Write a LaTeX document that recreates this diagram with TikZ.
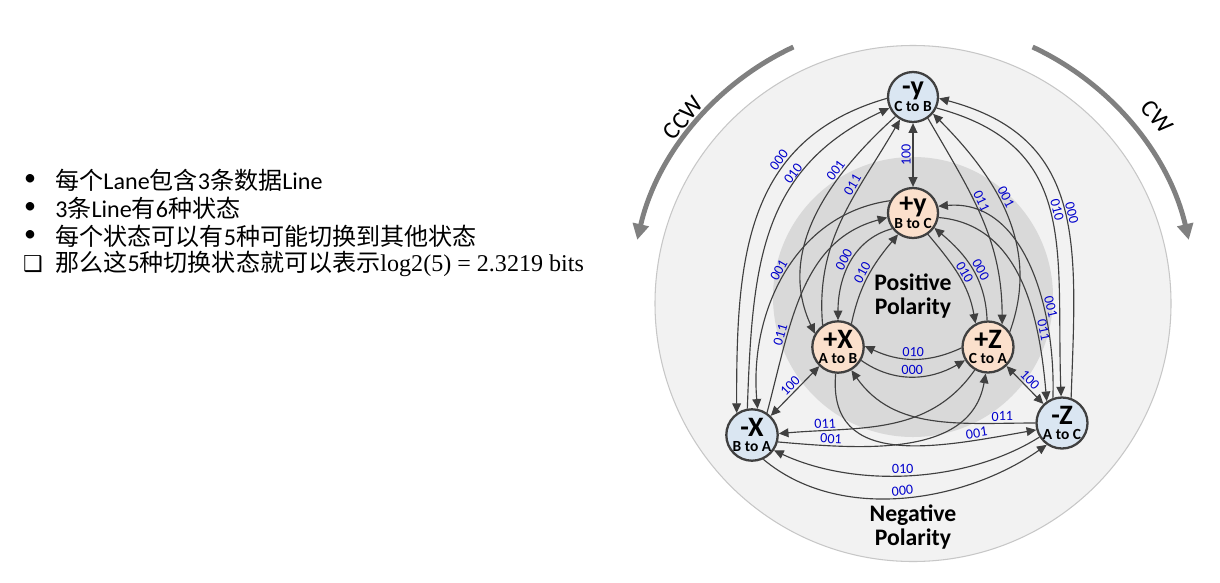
\documentclass[tikz,border=0pt]{standalone}
\usepackage{fontspec}
\setmainfont{Carlito}
\newfontfamily\cjk{Noto Sans CJK SC}
\newfontfamily\timesf{Liberation Serif}
\newfontfamily\symf{DejaVu Sans}
\usetikzlibrary{arrows.meta}

\definecolor{linegray}{RGB}{64,64,64}
\definecolor{negfill}{RGB}{218,230,242}
\definecolor{posfill}{RGB}{251,224,204}
\definecolor{codeblue}{RGB}{0,0,204}
\definecolor{outerfill}{RGB}{242,242,242}
\definecolor{innerfill}{RGB}{217,217,217}
\definecolor{rotgray}{RGB}{128,128,128}

\newcommand{\stl}[2]{{\fontsize{16}{16}\selectfont #1}\\[-3pt]{\fontsize{8.8}{8.8}\selectfont #2}}

\tikzset{
  wire/.style={circle, draw=linegray, line width=1.3pt, minimum size=1cm, inner sep=0pt, align=center, font=\bfseries},
  negwire/.style={wire, fill=negfill},
  poswire/.style={wire, fill=posfill},
  trans/.style={draw=linegray, line width=0.65pt, ->},
  code/.style={font=\fontsize{8}{8}\selectfont, text=codeblue, sloped, above, inner sep=1pt},
  txt/.style={anchor=west, inner sep=0pt, font=\fontsize{13.7}{16}\selectfont},
  rotarr/.style={draw=rotgray, line width=2.8pt, -{Triangle[length=9pt,width=9pt]}},
}

\begin{document}
\begin{tikzpicture}[x=0.02cm, y=0.02cm, >={Triangle[length=5.5pt,width=5pt]}]
\useasboundingbox (0,0) rectangle (1220,-582);
\fill[white] (0,0) rectangle (1220,-582);

% bullet list
\node[inner sep=0pt, font=\fontsize{13.7}{16}\selectfont] (d1) at (30,-180) {•};
\node[inner sep=0pt, font=\fontsize{13.7}{16}\selectfont] (d2) at (30,-208) {•};
\node[inner sep=0pt, font=\fontsize{13.7}{16}\selectfont] (d3) at (30,-236) {•};
\node[inner sep=0pt, font=\fontsize{12.5}{16}\symf] (d4) at (33,-264) {❑};
\node[txt] (t1) at (55,-180) {{\cjk 每个}Lane{\cjk 包含}3{\cjk 条数据}Line};
\node[txt] (t2) at (55,-208) {3{\cjk 条}Line{\cjk 有}6{\cjk 种状态}};
\node[txt] (t3) at (55,-236) {{\cjk 每个状态可以有}5{\cjk 种可能切换到其他状态}};
\node[txt] (t4) at (55,-264) {{\cjk 那么这}5{\cjk 种切换状态就可以表示}{\timesf log2(5) = 2.3219 bits}};

% polarity discs
\draw[fill=outerfill, draw=black!22, line width=0.6pt] (913,-303.5) circle (258);
\fill[innerfill] (913,-297) circle (140);
\node[font=\bfseries\fontsize{13.5}{14}\selectfont, align=center] (posl) at (913,-296) {Positive\\Polarity};
\node[font=\bfseries\fontsize{13.5}{14}\selectfont, align=center] (negl) at (913,-527) {Negative\\Polarity};

% rotation arrows
\draw[rotarr] (913,-303.5) ++(115:283) arc (115:167:283);
\draw[rotarr] (913,-303.5) ++(65:283) arc (65:13:283);
\node[rotate=50, font=\fontsize{14}{14}\selectfont] (ccw) at (683,-118) {CCW};
\node[rotate=-50, font=\fontsize{14}{14}\selectfont] (cw) at (1157,-117) {CW};

% wire states
\node[negwire] (my) at (913,-97) {\stl{-y}{C to B}};
\node[poswire] (py) at (913,-213) {\stl{+y}{B to C}};
\node[poswire] (px) at (838,-347) {\stl{+X}{A to B}};
\node[poswire] (pz) at (988,-347) {\stl{+Z}{C to A}};
\node[negwire] (mx) at (752,-435) {\stl{-X}{B to A}};
\node[negwire] (mz) at (1062,-423) {\stl{-Z}{A to C}};

% flips
\draw[trans, <->] (py) -- node[code, midway]{100} (my);
\draw[trans, <->] (mx) -- node[code, midway]{100} (px);
\draw[trans, <->] (pz) -- node[code, midway]{100} (mz);

% -y <-> -x, -y <-> +x
\draw[trans] (my.183) to[out=196, in=90, looseness=1.1] node[code, pos=0.33]{000} (mx.125);
\draw[trans] (mx.100) to[out=88, in=205, looseness=1.1] node[code, pos=0.68]{010} (my.205);
\draw[trans] (my.228) to[out=222, in=115] node[code, pos=0.3]{001} (px.150);
\draw[trans] (px.125) to[out=95, in=240] node[code, pos=0.66]{011} (my.240);

% -y <-> -z, -y <-> +z
\draw[trans] (mz.70) to[out=88, in=-15, looseness=1.2] node[code, pos=0.47]{000} (my.-3);
\draw[trans] (my.-25) to[out=-15, in=92, looseness=1.2] node[code, pos=0.5]{010} (mz.92);
\draw[trans] (pz.35) to[out=70, in=-45] node[code, pos=0.57]{001} (my.-40);
\draw[trans] (my.-55) to[out=-60, in=90] node[code, pos=0.43]{011} (pz.58);

% +y <-> -x, +y <-> +x
\draw[trans] (py.152) to[out=188, in=95] node[code, pos=0.5]{001} (mx.78);
\draw[trans] (mx.56) to[out=75, in=195] node[code, pos=0.3]{011} (py.190);
\draw[trans] (py.217) to[out=195, in=90] node[code, pos=0.5]{000} (px.90);
\draw[trans] (px.60) to[out=78, in=230] node[code, pos=0.5]{010} (py.235);

% +y <-> -z, +y <-> +z
\draw[trans] (py.-10) to[out=-5, in=95] node[code, pos=0.72]{011} (mz.125);
\draw[trans] (mz.110) to[out=88, in=5] node[code, pos=0.33]{001} (py.15);
\draw[trans] (py.-55) to[out=-50, in=100] node[code, pos=0.5]{010} (pz.118);
\draw[trans] (pz.92) to[out=92, in=-40] node[code, pos=0.45]{000} (py.-35);

% +x <-> +z
\draw[trans] (pz.182) to[out=205, in=-25] node[code, pos=0.5]{010} (px.2);
\draw[trans] (px.-30) to[out=-35, in=210] node[code, pos=0.5]{000} (pz.210);

% +x <-> -z, +z <-> -x
\draw[trans] (mz.180) to[out=180, in=-55] node[code, pos=0.15]{011} (px.-60);
\draw[trans] (px.-95) to[out=-95, in=190, looseness=1.2] node[code, pos=0.8]{001} (mz.195);
\draw[trans] (pz.-120) to[out=-125, in=5] node[code, pos=0.8]{011} (mx.3);
\draw[trans] (mx.-15) to[out=-5, in=-100] node[code, pos=0.2]{001} (pz.-95);

% -x <-> -z
\draw[trans] (mz.212) to[out=212, in=-25, looseness=0.85] node[code, pos=0.52]{010} (mx.-35);
\draw[trans] (mx.-65) to[out=-40, in=215, looseness=0.9] node[code, pos=0.5]{000} (mz.235);
\end{tikzpicture}
\end{document}
